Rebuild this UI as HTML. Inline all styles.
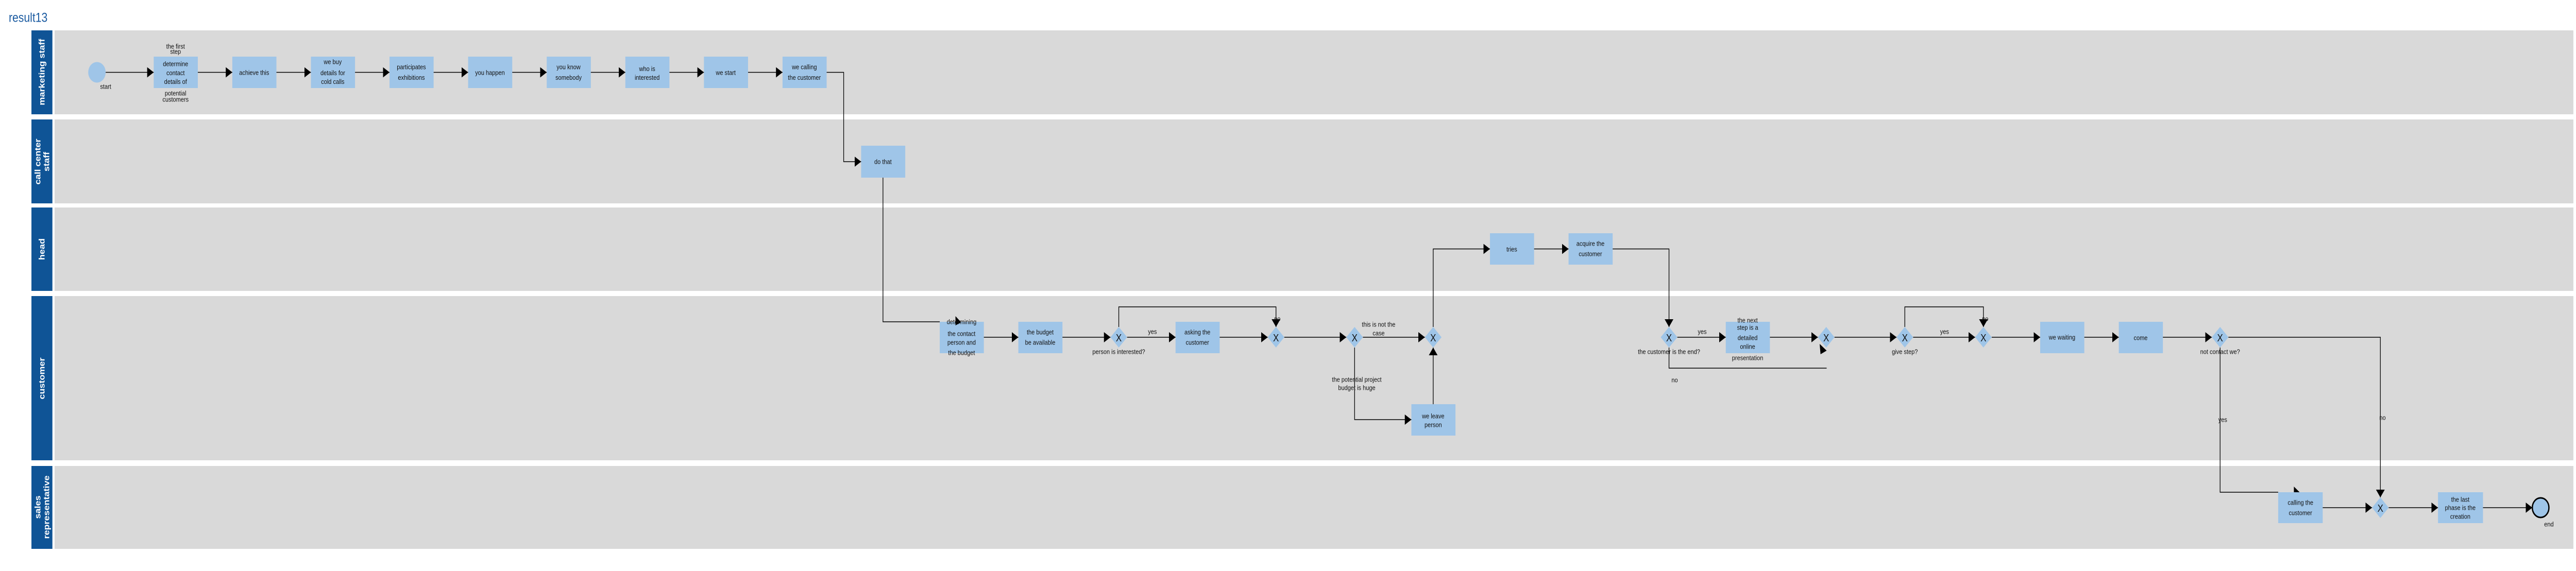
<!DOCTYPE html>
<html><head><meta charset="utf-8"><style>
html,body{margin:0;padding:0;background:#fff;width:100%;height:100%;overflow:hidden;}
svg{display:block;width:100vw;height:100vh;}
text{font-family:"Liberation Sans",Arial,sans-serif;font-size:13px;fill:#111;dominant-baseline:central;}
.c{text-anchor:middle;}
.h{fill:#fff;font-size:18px;font-weight:bold;text-anchor:middle;}
.x{font-size:20px;text-anchor:middle;}
</style></head><body>
<svg viewBox="0 0 5899 1109" preserveAspectRatio="none" xmlns="http://www.w3.org/2000/svg">
<defs>
<marker id="a" markerWidth="15" markerHeight="20" refX="15" refY="10" orient="auto" markerUnits="userSpaceOnUse"><path d="M0,0 L15,10 L0,20 z" fill="#000"/></marker>
</defs>
<text x="20" y="34" style="font-size:25px;fill:#1a5aa0;">result13</text>
<g fill="#d9d9d9">
<rect x="125" y="59" width="5768" height="163"/>
<rect x="125" y="232" width="5768" height="163"/>
<rect x="125" y="403" width="5768" height="162"/>
<rect x="125" y="575" width="5768" height="319"/>
<rect x="125" y="905" width="5768" height="161"/>
</g>
<g fill="#0f5496">
<rect x="72" y="59" width="48" height="163"/>
<rect x="72" y="232" width="48" height="163"/>
<rect x="72" y="403" width="48" height="162"/>
<rect x="72" y="575" width="48" height="319"/>
<rect x="72" y="905" width="48" height="161"/>
</g>
<text class="h" transform="translate(96,140) rotate(-90)">marketing staff</text>
<text class="h" transform="translate(96,314) rotate(-90)"><tspan x="0" dy="-10">call center</tspan><tspan x="0" dy="20">staff</tspan></text>
<text class="h" transform="translate(96,484) rotate(-90)">head</text>
<text class="h" transform="translate(96,735) rotate(-90)">customer</text>
<text class="h" transform="translate(96,985) rotate(-90)"><tspan x="0" dy="-10">sales</tspan><tspan x="0" dy="20">representative</tspan></text>

<g fill="#9fc5e8">
<rect x="352" y="110" width="101" height="61"/><rect x="532" y="110" width="101" height="61"/>
<rect x="712" y="110" width="101" height="61"/><rect x="892" y="110" width="101" height="61"/>
<rect x="1072" y="110" width="101" height="61"/><rect x="1252" y="110" width="101" height="61"/>
<rect x="1432" y="110" width="101" height="61"/><rect x="1612" y="110" width="101" height="61"/>
<rect x="1792" y="110" width="101" height="61"/>
<rect x="1972" y="283" width="101" height="62"/>
<rect x="3412" y="453" width="101" height="61"/><rect x="3592" y="453" width="101" height="61"/>
<rect x="2152" y="625" width="101" height="61"/><rect x="2332" y="625" width="101" height="61"/>
<rect x="2692" y="625" width="101" height="61"/><rect x="3232" y="785" width="101" height="61"/>
<rect x="3952" y="625" width="101" height="61"/><rect x="4672" y="625" width="101" height="61"/>
<rect x="4852" y="625" width="101" height="61"/>
<rect x="5217" y="956" width="102" height="60"/><rect x="5583" y="956" width="103" height="60"/>
<circle cx="222" cy="140.5" r="20"/>
<circle cx="5818" cy="986" r="19" stroke="#000" stroke-width="3"/>
</g>
<g fill="#9fc5e8">
<polygon points="2562,635 2581,655 2562,675 2543,655"/>
<polygon points="2922,635 2941,655 2922,675 2903,655"/>
<polygon points="3102,635 3121,655 3102,675 3083,655"/>
<polygon points="3282,635 3301,655 3282,675 3263,655"/>
<polygon points="3822,635 3841,655 3822,675 3803,655"/>
<polygon points="4182,635 4201,655 4182,675 4163,655"/>
<polygon points="4362,635 4381,655 4362,675 4343,655"/>
<polygon points="4542,635 4561,655 4542,675 4523,655"/>
<polygon points="5084,635 5103,655 5084,675 5065,655"/>
<polygon points="5451,966 5470,986 5451,1006 5432,986"/>
</g>
<g>
<text class="x" x="2562" y="656">X</text><text class="x" x="2922" y="656">X</text>
<text class="x" x="3102" y="656">X</text><text class="x" x="3282" y="656">X</text>
<text class="x" x="3822" y="656">X</text><text class="x" x="4182" y="656">X</text>
<text class="x" x="4362" y="656">X</text><text class="x" x="4542" y="656">X</text>
<text class="x" x="5084" y="656">X</text><text class="x" x="5451" y="987">X</text>
</g>

<g stroke="#000" stroke-width="1.5" fill="none" marker-end="url(#a)">
<path d="M242,140.5 H352"/><path d="M453,140.5 H532"/><path d="M633,140.5 H712"/>
<path d="M813,140.5 H892"/><path d="M993,140.5 H1072"/><path d="M1173,140.5 H1252"/>
<path d="M1353,140.5 H1432"/><path d="M1533,140.5 H1612"/><path d="M1713,140.5 H1792"/>
<path d="M1893,140.5 H1932 V314 H1972"/>
<path d="M2253,655 H2332"/><path d="M2433,655 H2543"/><path d="M2581,655 H2692"/>
<path d="M2793,655 H2903"/><path d="M2562,635 V596 H2922 V635"/>
<path d="M2941,655 H3083"/><path d="M3121,655 H3263"/>
<path d="M3102,675 V815 H3232"/><path d="M3282,785 V675"/>
<path d="M3282,635 V483.5 H3412"/><path d="M3513,483.5 H3592"/>
<path d="M3693,483.5 H3822 V635"/>
<path d="M3841,655 H3952"/><path d="M4053,655 H4163"/><path d="M4201,655 H4343"/>
<path d="M4362,635 V596 H4542 V635"/><path d="M4381,655 H4523"/>
<path d="M4561,655 H4672"/><path d="M4773,655 H4852"/><path d="M4953,655 H5065"/>
<path d="M5103,655 H5451 V966"/>
<path d="M5319,986 H5432"/><path d="M5470,986 H5583"/><path d="M5686,986 H5799"/>
</g>
<g stroke="#000" stroke-width="1.5" fill="none">
<path d="M2022,345 V625 H2152"/>
<path d="M3822,675 V715 H4183"/>
<path d="M5084,675 V956 H5217"/>
</g>
<g fill="#000">
<polygon points="2188,614 2201,626 2188,632"/>
<polygon points="4167,668 4183,681 4169,688"/>
<polygon points="5253,945 5266,956 5253,956"/>
</g>

<g class="c">
<text class="c" x="402" y="90">the first</text><text class="c" x="402" y="100">step</text>
<text class="c" x="402" y="124">determine</text><text class="c" x="402" y="141.5">contact</text><text class="c" x="402" y="158.6">details of</text>
<text class="c" x="402" y="181">potential</text><text class="c" x="402" y="193">customers</text>
<text x="242" y="168" class="c">start</text>
<text class="c" x="582" y="141">achieve this</text>
<text class="c" x="762" y="120">we buy</text><text class="c" x="762" y="141.5">details for</text><text class="c" x="762" y="158.6">cold calls</text>
<text class="c" x="942" y="130.4">participates</text><text class="c" x="942" y="150.6">exhibitions</text>
<text class="c" x="1122" y="141">you happen</text>
<text class="c" x="1302" y="130.4">you know</text><text class="c" x="1302" y="150.6">somebody</text>
<text class="c" x="1482" y="133.5">who is</text><text class="c" x="1482" y="150.6">interested</text>
<text class="c" x="1662" y="141">we start</text>
<text class="c" x="1842" y="130.4">we calling</text><text class="c" x="1842" y="150.6">the customer</text>
<text class="c" x="2022" y="314">do that</text>
<text class="c" x="3462" y="484">tries</text>
<text class="c" x="3642" y="473">acquire the</text><text class="c" x="3642" y="493">customer</text>
<text class="c" x="2202" y="625">determining</text><text class="c" x="2202" y="648">the contact</text>
<text class="c" x="2202" y="665">person and</text><text class="c" x="2202" y="685">the budget</text>
<text class="c" x="2382" y="645">the budget</text><text class="c" x="2382" y="665">be available</text>
<text class="c" x="2562" y="683">person is interested?</text>
<text class="c" x="2639" y="644">yes</text>
<text class="c" x="2742" y="645">asking the</text><text class="c" x="2742" y="665">customer</text>
<text x="2925" y="619">no</text>
<text x="3157" y="630">this is not the</text><text x="3157" y="647">case</text>
<text x="3107" y="737">the potential project</text><text x="3107" y="753">budget is huge</text>
<text class="c" x="3282" y="808">we leave</text><text class="c" x="3282" y="825">person</text>
<text class="c" x="3822" y="683">the customer is the end?</text>
<text class="c" x="3898" y="644">yes</text>
<text class="c" x="3835" y="738">no</text>
<text class="c" x="4002" y="622">the next</text><text class="c" x="4002" y="636">step is a</text>
<text class="c" x="4002" y="656">detailed</text><text class="c" x="4002" y="673">online</text>
<text class="c" x="4002" y="695">presentation</text>
<text class="c" x="4362" y="683">give step?</text>
<text class="c" x="4453" y="644">yes</text>
<text x="4546" y="619">no</text>
<text class="c" x="4722" y="655">we waiting</text>
<text class="c" x="4902" y="656">come</text>
<text class="c" x="5084" y="683">not contact we?</text>
<text x="5090" y="815">yes</text>
<text x="5456" y="811">no</text>
<text class="c" x="5268" y="976">calling the</text><text class="c" x="5268" y="996">customer</text>
<text class="c" x="5634" y="970">the last</text><text class="c" x="5634" y="986">phase is the</text><text class="c" x="5634" y="1003">creation</text>
<text class="c" x="5837" y="1018">end</text>
</g>
</svg>
</body></html>
